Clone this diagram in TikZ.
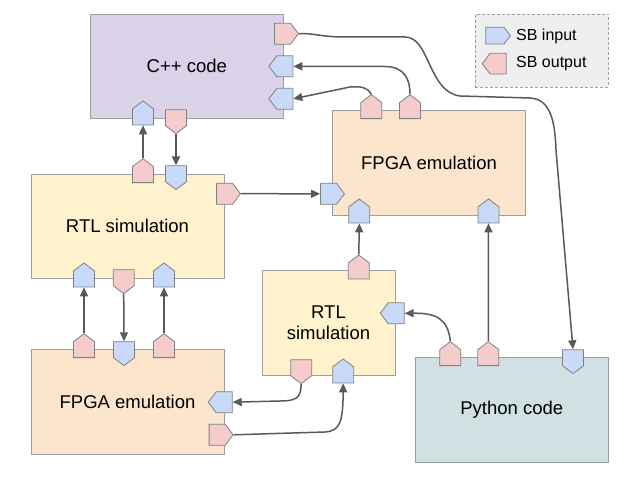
\documentclass[tikz,border=0pt]{standalone}
\usepackage{fontspec}
\setmainfont{Liberation Sans}
\usetikzlibrary{shapes.symbols,arrows.meta}
\definecolor{cppfill}{HTML}{D9D2E9}
\definecolor{fpgafill}{HTML}{FCE5CD}
\definecolor{rtlfill}{HTML}{FFF2CC}
\definecolor{pyfill}{HTML}{D0E0E3}
\definecolor{legfill}{HTML}{EFEFEF}
\definecolor{infill}{HTML}{C9DAF8}
\definecolor{outfill}{HTML}{F4CCCC}
\definecolor{boxline}{HTML}{9E9E9E}
\definecolor{portline}{HTML}{808080}
\definecolor{arrowcol}{HTML}{595959}
\begin{document}
\begin{tikzpicture}[x=1pt,y=-1pt,
  box/.style={draw=boxline, line width=1pt, inner sep=0pt, font=\fontsize{18.5}{21}\selectfont, align=center},
  sbport/.style={signal, draw=portline, line width=0.8pt, inner sep=0pt, signal pointer angle=106, signal from=nowhere},
  sbin/.style={sbport, fill=infill},
  sbout/.style={sbport, fill=outfill},
  pup/.style={signal to=north, minimum width=21pt, minimum height=16pt, anchor=south},
  pdown/.style={signal to=south, minimum width=21pt, minimum height=16pt, anchor=north},
  pleft/.style={signal to=west, minimum width=24pt, minimum height=21pt, anchor=east},
  pright/.style={signal to=east, minimum width=24pt, minimum height=21pt, anchor=west},
  arr/.style={draw=arrowcol, line width=1.5pt, -{Triangle[length=9pt,width=8pt]}},
  legtext/.style={anchor=west, inner sep=0pt, font=\fontsize{16}{18}\selectfont}
]
\useasboundingbox (0,0) rectangle (636,484);
% boxes
\node[box, fill=cppfill, minimum width=193pt, minimum height=104pt] (cpp) at (186.8,66.2) {C++ code};
\node[box, fill=fpgafill, minimum width=193pt, minimum height=105pt] (ft) at (429,162.5) {FPGA emulation};
\node[box, fill=rtlfill, minimum width=193pt, minimum height=104pt] (rl) at (127.5,226.2) {RTL simulation};
\node[box, fill=fpgafill, minimum width=193pt, minimum height=105pt] (fb) at (127.5,402.2) {FPGA emulation};
\node[box, fill=rtlfill, minimum width=133pt, minimum height=105pt] (rs) at (328.5,322.5) {RTL\\simulation};
\node[box, fill=pyfill, minimum width=193pt, minimum height=105pt] (py) at (511.8,410.2) {Python code};
% legend
\node[draw=boxline, fill=legfill, line width=1pt, dash pattern=on 3pt off 2pt, minimum width=133pt, minimum height=73.3pt, inner sep=0pt] (leg) at (541.8,50.7) {};
\node[sbin, pright, minimum width=24.7pt, minimum height=16.7pt] (lgI) at (485.3,35.7) {};
\node[sbout, pleft, minimum width=24pt, minimum height=20.7pt] (lgO) at (506.7,63.7) {};
\node[legtext] (lgIt) at (516,36) {SB input};
\node[legtext] (lgOt) at (516,63.5) {SB output};
% ports C++
\node[sbout, pright] (cppO) at (274,33.7) {};
\node[sbin, pleft] (cppI1) at (293.3,66.3) {};
\node[sbin, pleft] (cppI2) at (293.3,98.8) {};
\node[sbin, pup] (cppIb) at (143,125.3) {};
\node[sbout, pdown] (cppOb) at (176,109.3) {};
% ports FPGA top right
\node[sbout, pup] (ftO1) at (371.3,119) {};
\node[sbout, pup] (ftO2) at (410,119) {};
\node[sbin, pright] (ftI) at (320,193.8) {};
\node[sbin, pup] (ftIb1) at (359.3,223.3) {};
\node[sbin, pup] (ftIb2) at (488.5,223.3) {};
% ports RTL left
\node[sbout, pup] (rlOt) at (143,183) {};
\node[sbin, pdown] (rlIt) at (176,165.3) {};
\node[sbout, pright] (rlO) at (216,193.7) {};
\node[sbin, pup] (rlIb1) at (84,287.3) {};
\node[sbout, pdown] (rlOb) at (123.7,269.3) {};
\node[sbin, pup] (rlIb2) at (164,287.3) {};
% ports FPGA bottom left
\node[sbout, pup] (fbO1) at (84,358) {};
\node[sbin, pdown] (fbI) at (124,341.3) {};
\node[sbout, pup] (fbO2) at (164,358) {};
\node[sbin, pleft] (fbIr) at (232.7,402.2) {};
\node[sbout, pright] (fbOr) at (208.7,434.8) {};
% ports RTL small
\node[sbout, pup] (rsO) at (358.8,279.3) {};
\node[sbin, pleft] (rsI) at (404.7,313.3) {};
\node[sbout, pdown] (rsOb) at (301.2,359.3) {};
\node[sbin, pup] (rsIb) at (343.2,383.3) {};
% ports Python
\node[sbout, pup] (pyO1) at (450.3,366) {};
\node[sbout, pup] (pyO2) at (488.3,366) {};
\node[sbin, pdown] (pyI) at (573,349.3) {};
% connectors
\draw[arr] (cppOb.south) -- (rlIt.north);
\draw[arr] (rlOt.north) -- (cppIb.south);
\draw[arr] (rlO.east) -- (ftI.west);
\draw[arr] (ftO1.north) .. controls (368,88) and (362,86) .. (350,87) -- (cppI2.east);
\draw[arr] (ftO2.north) .. controls (410,80) and (405,66.5) .. (385,66.5) -- (cppI1.east);
\draw[arr] (cppO.east) .. controls (315,33) and (320,37) .. (345,37) -- (405,37) .. controls (430,37) and (428,92) .. (460,96) -- (530,98) .. controls (550,99) and (555,120) .. (556,150) -- (pyI.north);
\draw[arr] (pyO2.north) -- (ftIb2.south);
\draw[arr] (pyO1.north) .. controls (448,318) and (435,313) .. (rsI.east);
\draw[arr] (rsO.north) -- (ftIb1.south);
\draw[arr] (fbO1.north) -- (rlIb1.south);
\draw[arr] (rlOb.south) -- (fbI.north);
\draw[arr] (fbO2.north) -- (rlIb2.south);
\draw[arr] (rsOb.south) .. controls (301,398) and (296,401) .. (280,401) -- (fbIr.east);
\draw[arr] (fbOr.east) -- (325,432) .. controls (340,431) and (343,422) .. (rsIb.south);
\end{tikzpicture}
\end{document}
